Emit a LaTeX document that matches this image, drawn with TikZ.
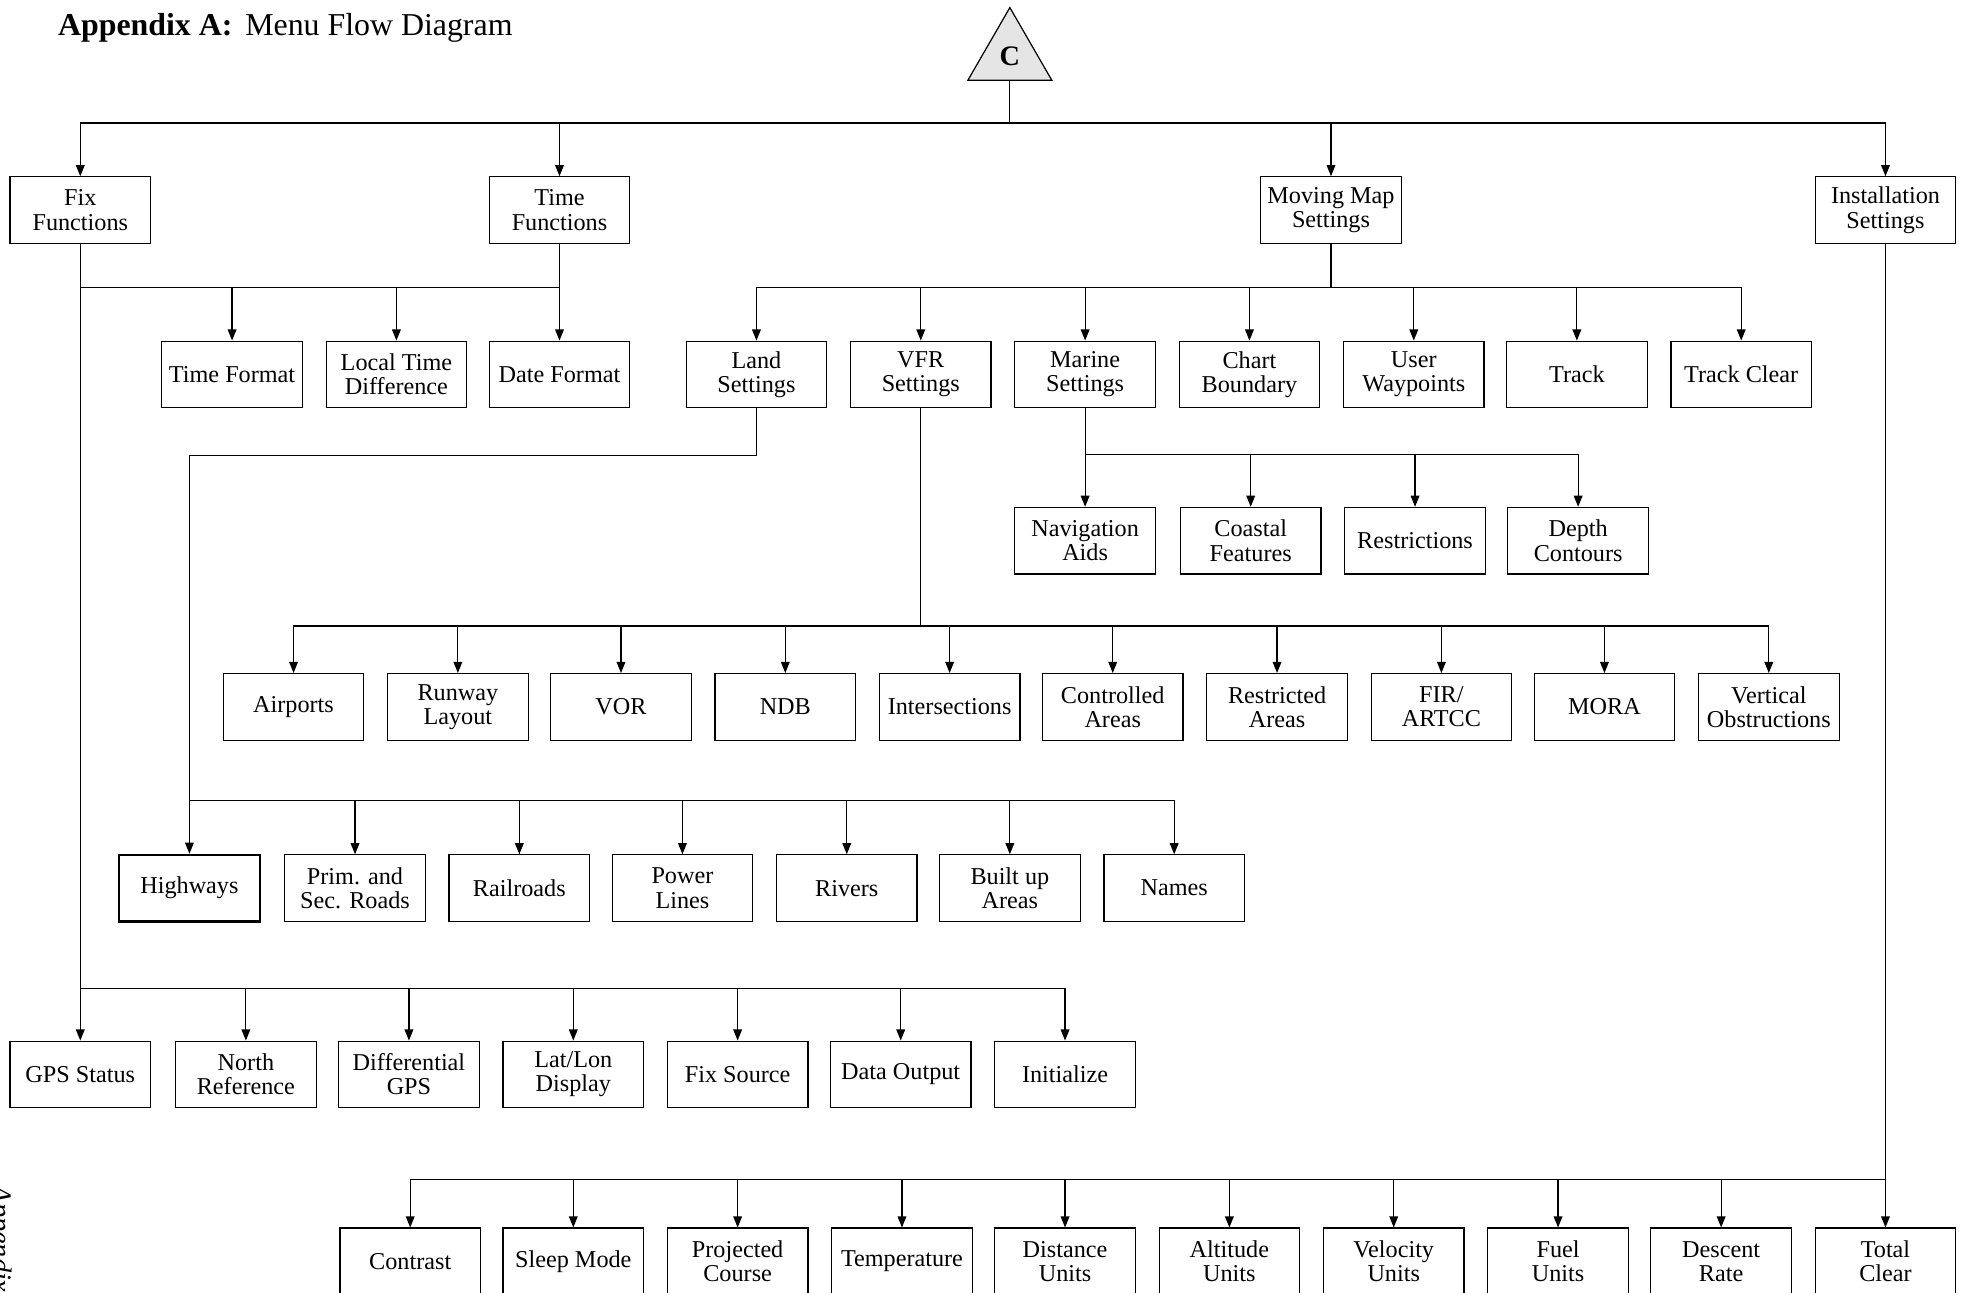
\documentclass[tikz,border=0pt]{standalone}
\usepackage{fontspec}
\setmainfont{Liberation Serif}
\usetikzlibrary{arrows.meta,shapes.geometric}
\begin{document}
\begin{tikzpicture}[x=0.622pt,y=-0.622pt]
        \tikzstyle{every node}+=[inner sep=0pt]
        \tikzstyle{menubox}=[draw=black, line width=0.6pt, minimum width=69.7pt, minimum height=33pt, align=center, font=\fontsize{12}{12}\selectfont]
        \tikzstyle{arr}=[black, line width=0.6pt, -{Triangle[length=5.5pt,width=4.3pt]}]
        \tikzstyle{link}=[black, line width=0.6pt]
        \useasboundingbox (0,0) rectangle (1568,1030.7);
        \clip (0,0) rectangle (1568,1030.7);
        \node [anchor=base west, font=\fontsize{15.8}{16}\selectfont] (title) at (46,28) {\textbf{Appendix A:}\hspace{0.4em}Menu Flow Diagram};
        \node [anchor=base west, rotate=-90, font=\fontsize{14}{14}\selectfont\itshape] (side) at (-6,945) {Appendix};
        \node [draw=black, line width=0.6pt, fill=gray!20, regular polygon, regular polygon sides=3, minimum size=48.1pt, font=\fontsize{14}{14}\selectfont\bfseries] (c) at (805,44.7) {C};
        \node [menubox] (fix) at (64,167.5) {Fix\\Functions};
        \node [menubox] (time) at (446,167.5) {Time\\Functions};
        \node [menubox] (mmap) at (1061,167.5) {Moving Map\\Settings};
        \node [menubox] (inst) at (1503,167.5) {Installation\\Settings};
        \node [menubox] (tfmt) at (185,298.5) {Time Format};
        \node [menubox] (ltd) at (316,298.5) {Local Time\\Difference};
        \node [menubox] (dfmt) at (446,298.5) {Date Format};
        \node [menubox] (land) at (603,298.5) {Land\\Settings};
        \node [menubox] (vfr) at (734,298.5) {VFR\\Settings};
        \node [menubox] (marine) at (865,298.5) {Marine\\Settings};
        \node [menubox] (chart) at (996,298.5) {Chart\\Boundary};
        \node [menubox] (uwpt) at (1127,298.5) {User\\Waypoints};
        \node [menubox] (track) at (1257,298.5) {Track};
        \node [menubox] (trclr) at (1388,298.5) {Track Clear};
        \node [menubox] (nav) at (865,431) {Navigation\\Aids};
        \node [menubox] (coast) at (997,431) {Coastal\\Features};
        \node [menubox] (restr) at (1128,431) {Restrictions};
        \node [menubox] (depth) at (1258,431) {Depth\\Contours};
        \node [menubox] (apt) at (234,563.5) {Airports};
        \node [menubox] (rwy) at (365,563.5) {Runway\\Layout};
        \node [menubox] (vor) at (495,563.5) {VOR};
        \node [menubox] (ndb) at (626,563.5) {NDB};
        \node [menubox] (isect) at (757,563.5) {Intersections};
        \node [menubox] (ctrl) at (887,563.5) {Controlled\\Areas};
        \node [menubox] (rstd) at (1018,563.5) {Restricted\\Areas};
        \node [menubox] (fir) at (1149,563.5) {FIR/\\ARTCC};
        \node [menubox] (mora) at (1279,563.5) {MORA};
        \node [menubox] (vobs) at (1410,563.5) {Vertical\\Obstructions};
        \node [menubox, line width=1.1pt] (hwy) at (151,708) {Highways};
        \node [menubox] (roads) at (283,708) {Prim. and\\Sec. Roads};
        \node [menubox] (rail) at (414,708) {Railroads};
        \node [menubox] (power) at (544,708) {Power\\Lines};
        \node [menubox] (river) at (675,708) {Rivers};
        \node [menubox] (built) at (805,708) {Built up\\Areas};
        \node [menubox] (names) at (936,708) {Names};
        \node [menubox] (gps) at (64,856.5) {GPS Status};
        \node [menubox] (nref) at (196,856.5) {North\\Reference};
        \node [menubox] (dgps) at (326,856.5) {Differential\\GPS};
        \node [menubox] (latlon) at (457,856.5) {Lat/Lon\\Display};
        \node [menubox] (fsrc) at (588,856.5) {Fix Source};
        \node [menubox] (dout) at (718,856.5) {Data Output};
        \node [menubox] (init) at (849,856.5) {Initialize};
        \node [menubox] (contr) at (327,1005.5) {Contrast};
        \node [menubox] (sleep) at (457,1005.5) {Sleep Mode};
        \node [menubox] (proj) at (588,1005.5) {Projected\\Course};
        \node [menubox] (temp) at (719,1005.5) {Temperature};
        \node [menubox] (dist) at (849,1005.5) {Distance\\Units};
        \node [menubox] (alt) at (980,1005.5) {Altitude\\Units};
        \node [menubox] (vel) at (1111,1005.5) {Velocity\\Units};
        \node [menubox] (fuel) at (1242,1005.5) {Fuel\\Units};
        \node [menubox] (desc) at (1372,1005.5) {Descent\\Rate};
        \node [menubox] (total) at (1503,1005.5) {Total\\Clear};
        \coordinate (busC) at (0,98);
        \coordinate (busT) at (0,229);
        \coordinate (busM) at (0,362);
        \coordinate (busL) at (0,363);
        \coordinate (busV) at (0,499);
        \coordinate (busH) at (0,638);
        \coordinate (busF) at (0,788);
        \coordinate (busI) at (0,940);
        \draw [arr] (c.south) -- (c.south |- busC) -| (fix.north);
        \draw [arr] (c.south) -- (c.south |- busC) -| (time.north);
        \draw [arr] (c.south) -- (c.south |- busC) -| (mmap.north);
        \draw [arr] (c.south) -- (c.south |- busC) -| (inst.north);
        \draw [link] (time.south |- busT) -- (fix.south |- busT);
        \draw [arr] (time.south) -- (time.south |- busT) -| (tfmt.north);
        \draw [arr] (time.south) -- (time.south |- busT) -| (ltd.north);
        \draw [arr] (time.south) -- (dfmt.north);
        \draw [arr] (mmap.south) -- (mmap.south |- busT) -| (land.north);
        \draw [arr] (mmap.south) -- (mmap.south |- busT) -| (vfr.north);
        \draw [arr] (mmap.south) -- (mmap.south |- busT) -| (marine.north);
        \draw [arr] (mmap.south) -- (mmap.south |- busT) -| (chart.north);
        \draw [arr] (mmap.south) -- (mmap.south |- busT) -| (uwpt.north);
        \draw [arr] (mmap.south) -- (mmap.south |- busT) -| (track.north);
        \draw [arr] (mmap.south) -- (mmap.south |- busT) -| (trclr.north);
        \draw [arr] (marine.south) -- (nav.north);
        \draw [arr] (marine.south) -- (marine.south |- busM) -| (coast.north);
        \draw [arr] (marine.south) -- (marine.south |- busM) -| (restr.north);
        \draw [arr] (marine.south) -- (marine.south |- busM) -| (depth.north);
        \draw [arr] (vfr.south) -- (vfr.south |- busV) -| (apt.north);
        \draw [arr] (vfr.south) -- (vfr.south |- busV) -| (rwy.north);
        \draw [arr] (vfr.south) -- (vfr.south |- busV) -| (vor.north);
        \draw [arr] (vfr.south) -- (vfr.south |- busV) -| (ndb.north);
        \draw [arr] (vfr.south) -- (vfr.south |- busV) -| (isect.north);
        \draw [arr] (vfr.south) -- (vfr.south |- busV) -| (ctrl.north);
        \draw [arr] (vfr.south) -- (vfr.south |- busV) -| (rstd.north);
        \draw [arr] (vfr.south) -- (vfr.south |- busV) -| (fir.north);
        \draw [arr] (vfr.south) -- (vfr.south |- busV) -| (mora.north);
        \draw [arr] (vfr.south) -- (vfr.south |- busV) -| (vobs.north);
        \draw [arr] (land.south) -- (land.south |- busL) -| (hwy.north);
        \draw [arr] (hwy.north |- busH) -| (roads.north);
        \draw [arr] (hwy.north |- busH) -| (rail.north);
        \draw [arr] (hwy.north |- busH) -| (power.north);
        \draw [arr] (hwy.north |- busH) -| (river.north);
        \draw [arr] (hwy.north |- busH) -| (built.north);
        \draw [arr] (hwy.north |- busH) -| (names.north);
        \draw [arr] (fix.south) -- (gps.north);
        \draw [arr] (fix.south |- busF) -| (nref.north);
        \draw [arr] (fix.south |- busF) -| (dgps.north);
        \draw [arr] (fix.south |- busF) -| (latlon.north);
        \draw [arr] (fix.south |- busF) -| (fsrc.north);
        \draw [arr] (fix.south |- busF) -| (dout.north);
        \draw [arr] (fix.south |- busF) -| (init.north);
        \draw [arr] (inst.south) -- (total.north);
        \draw [arr] (inst.south |- busI) -| (contr.north);
        \draw [arr] (inst.south |- busI) -| (sleep.north);
        \draw [arr] (inst.south |- busI) -| (proj.north);
        \draw [arr] (inst.south |- busI) -| (temp.north);
        \draw [arr] (inst.south |- busI) -| (dist.north);
        \draw [arr] (inst.south |- busI) -| (alt.north);
        \draw [arr] (inst.south |- busI) -| (vel.north);
        \draw [arr] (inst.south |- busI) -| (fuel.north);
        \draw [arr] (inst.south |- busI) -| (desc.north);
\end{tikzpicture}
\end{document}
